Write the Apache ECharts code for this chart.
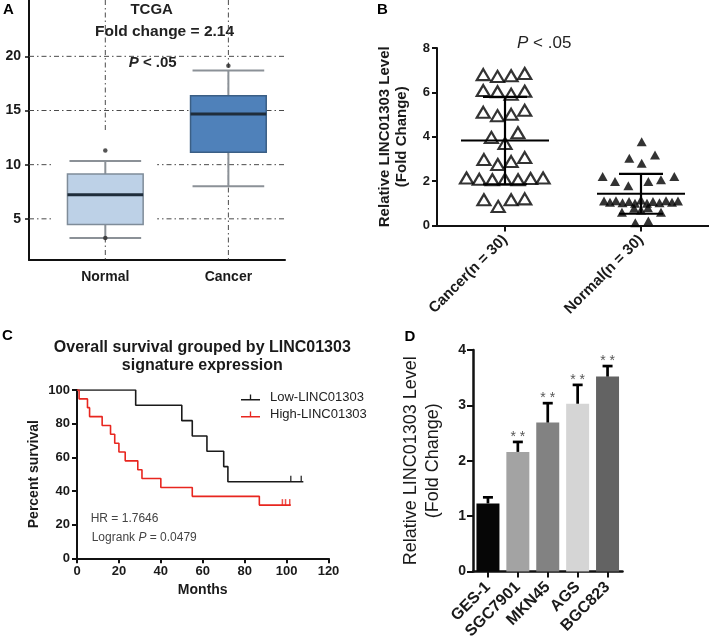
<!DOCTYPE html>
<html><head><meta charset="utf-8">
<script src="https://cdn.jsdelivr.net/npm/echarts@6/dist/echarts.min.js"></script>
<style>html,body{margin:0;padding:0;background:#fff}#c{width:709px;height:642px}</style>
</head><body><div id="c"></div>
<script>
// ---------- Panel A : TCGA box plot ----------
const boxCategories = ['Normal', 'Cancer'];
// [lower whisker, Q1, median, Q3, upper whisker]
const boxNormal = [3.24, 4.47, 7.22, 9.13, 10.35];
const boxCancer = [8.0, 11.14, 14.67, 16.37, 18.7];
const outlierCat = [1, 1, 2];
const outlierVal = [11.3, 3.24, 19.14];
const boxTicks = [5, 10, 15, 20];

// ---------- Panel B : scatter of relative level ----------
const groupLabels = ['Cancer(n = 30)', 'Normal(n = 30)'];
const cancerJitter = [-0.16, -0.055, 0.045, 0.145, -0.16, -0.055, 0.045, 0.145, -0.16, -0.055, 0.045, 0.145,
  -0.1, 0, 0.095, -0.155, -0.053, 0.045, 0.145,
  -0.283, -0.189, -0.093, 0, 0.096, 0.188, 0.28, -0.155, -0.05, 0.045, 0.145];
const cancerValues = [6.80, 6.72, 6.75, 6.85, 6.08, 6.03, 5.92, 6.05, 5.10, 4.95, 5.01, 5.19,
  3.97, 3.70, 4.18, 2.97, 2.75, 2.88, 3.06,
  2.14, 2.08, 2.06, 2.08, 2.06, 2.12, 2.14, 1.16, 0.86, 1.16, 1.20];
const normalJitter = [0.005, -0.086, 0.103, 0.005,
  -0.282, -0.191, -0.093, 0.054, 0.147, 0.245,
  -0.272, -0.228, -0.184, -0.136, -0.088, -0.044, 0, 0.044, 0.088, 0.136, 0.184, 0.228, 0.272,
  -0.14, -0.051, 0, 0.051, 0.147, -0.042, 0.054];
const normalValues = [3.78, 3.03, 3.18, 2.81,
  2.21, 1.98, 1.79, 1.98, 2.06, 2.21,
  1.10, 1.05, 1.12, 1.02, 1.08, 1.00, 1.15, 1.00, 1.08, 1.02, 1.12, 1.05, 1.10,
  0.60, 0.78, 0.70, 0.80, 0.60, 0.12, 0.20];
const groupMeans = [3.83, 1.43];
const groupSD = [1.97, 0.90];

// ---------- Panel C : Kaplan-Meier ----------
const lowMonths = [0, 28, 50, 55, 62, 70, 72, 108];
const lowSurvival = [100, 90.9, 81.8, 72.7, 63.6, 54.5, 45.5, 45.5];
const lowCensorMonths = [102, 107];
const highMonths = [0, 1, 5, 6, 12, 16, 18, 20, 23, 29, 31, 40, 55, 87, 102];
const highSurvival = [100, 94.7, 89.5, 84.2, 78.9, 73.7, 68.4, 63.2, 57.9, 52.6, 47.4, 42.1, 36.8, 31.6, 31.6];
const highCensorMonths = [98, 99.5, 101.5];

// ---------- Panel D : cell lines ----------
const cellLines = ['GES-1', 'SGC7901', 'MKN45', 'AGS', 'BGC823'];
const cellLevel = [1.23, 2.16, 2.69, 3.03, 3.52];
const cellErr = [0.11, 0.18, 0.35, 0.34, 0.19];
const cellSig = ['', '**', '**', '**', '**'];

// ================= rendering =================
const FONT = '"Liberation Sans", Arial, Helvetica, sans-serif';
const INK = '#1a1a1a';
const chart = echarts.init(document.getElementById('c'));

const boxStats = [boxNormal, boxCancer];
const boxFill = ['#bdd1e7', '#4f81ba'];
const boxStroke = ['#7f8c99', '#3b5f85'];
const barColors = ['#060606', '#a3a3a3', '#828282', '#d5d5d5', '#636363'];
const kmLow = '#1a1a1a', kmHigh = '#e8261f';

function axisLineStyle(w) { return {show: true, onZero: false, lineStyle: {color: '#111', width: w}}; }

const option = {
  animation: false,
  backgroundColor: '#fff',
  textStyle: {fontFamily: FONT},
  grid: [
    {left: 29, top: 0, width: 256, height: 260},
    {left: 437, top: 48, width: 272, height: 177.5},
    {left: 77, top: 390, width: 251.5, height: 168.3},
    {left: 473, top: 350, width: 149.5, height: 222.7}
  ],
  legend: {
    data: ['Low-LINC01303', 'High-LINC01303'],
    orient: 'vertical', left: 241, top: 391, padding: 0,
    itemWidth: 19, itemHeight: 9, itemGap: 4,
    selectedMode: false,
    icon: 'path://M0,7L20,7L20,8.6L0,8.6Z M9.3,2.5L10.7,2.5L10.7,8L9.3,8Z',
    textStyle: {fontSize: 13, color: '#222', fontFamily: FONT, padding: [0, 0, 0, 5]}
  },
  xAxis: [
    {gridIndex: 0, type: 'value', min: 0.38, max: 2.46,
      axisLine: axisLineStyle(2), axisTick: {show: false}, splitLine: {show: false},
      axisLabel: {customValues: [1, 2], formatter: v => boxCategories[Math.round(v) - 1],
        fontSize: 14, fontWeight: 'bold', color: INK, margin: 10}},
    {gridIndex: 1, type: 'value', min: -0.5, max: 1.5,
      axisLine: axisLineStyle(2), splitLine: {show: false},
      axisTick: {show: true, customValues: [0, 1], length: 6, lineStyle: {width: 2, color: '#111'}},
      axisLabel: {customValues: [0, 1], formatter: v => groupLabels[Math.round(v)],
        rotate: 45, fontSize: 15, fontWeight: 'bold', color: INK, margin: 12}},
    {gridIndex: 2, type: 'value', min: 0, max: 120, interval: 20,
      axisLine: axisLineStyle(2), splitLine: {show: false},
      axisTick: {show: true, length: 5, lineStyle: {width: 2, color: '#111'}},
      axisLabel: {fontSize: 13, fontWeight: 'bold', color: INK, margin: 7},
      name: 'Months', nameLocation: 'middle', nameGap: 25,
      nameTextStyle: {fontSize: 14, fontWeight: 'bold', color: INK}},
    {gridIndex: 3, type: 'category', data: cellLines,
      axisLine: axisLineStyle(2.5),
      axisTick: {show: true, alignWithLabel: true, length: 6, lineStyle: {width: 2, color: '#111'}},
      axisLabel: {rotate: 45, fontSize: 16, fontWeight: 'bold', color: INK, margin: 13, interval: 0}}
  ],
  yAxis: [
    {gridIndex: 0, type: 'value', min: 1.2, max: 25.2,
      axisLine: axisLineStyle(2), splitLine: {show: false},
      axisTick: {show: true, customValues: boxTicks, length: 4, lineStyle: {width: 1.5, color: '#111'}},
      axisLabel: {customValues: boxTicks, fontSize: 14, fontWeight: 'bold', color: INK, margin: 8}},
    {gridIndex: 1, type: 'value', min: 0, max: 8, interval: 2,
      axisLine: axisLineStyle(2), splitLine: {show: false},
      axisTick: {show: true, length: 5, lineStyle: {width: 2, color: '#111'}},
      axisLabel: {fontSize: 13, fontWeight: 'bold', color: INK, margin: 7},
      name: 'Relative LINC01303 Level\n(Fold Change)', nameLocation: 'middle', nameGap: 27,
      nameTextStyle: {fontSize: 15, fontWeight: 'bold', color: INK, lineHeight: 17}},
    {gridIndex: 2, type: 'value', min: 0, max: 100, interval: 20,
      axisLine: axisLineStyle(2), splitLine: {show: false},
      axisTick: {show: true, length: 5, lineStyle: {width: 2, color: '#111'}},
      axisLabel: {fontSize: 13, fontWeight: 'bold', color: INK, margin: 7},
      name: 'Percent survival', nameLocation: 'middle', nameGap: 36,
      nameTextStyle: {fontSize: 14, fontWeight: 'bold', color: INK}},
    {gridIndex: 3, type: 'value', min: 0, max: 4, interval: 1,
      axisLine: axisLineStyle(2.5), splitLine: {show: false},
      axisTick: {show: true, length: 6, lineStyle: {width: 2, color: '#111'}},
      axisLabel: {fontSize: 14, fontWeight: 'bold', color: INK, margin: 7},
      name: 'Relative LINC01303 Level\n(Fold Change)', nameLocation: 'middle', nameGap: 29,
      nameTextStyle: {fontSize: 18, color: INK, lineHeight: 22}}
  ],
  series: [
    // A: dash-dot reference lines
    {type: 'custom', xAxisIndex: 0, yAxisIndex: 0, z: 1, silent: true,
      data: boxTicks.map(v => [1, v, 0]).concat(boxCategories.map((c, i) => [i + 1, 10, 1])),
      encode: {x: 0, y: 1},
      renderItem(params, api) {
        const cs = params.coordSys;
        const p = api.coord([api.value(0), api.value(1)]);
        const style = {stroke: '#4a4a4a', lineWidth: 1, lineDash: [5, 3, 1.5, 3], fill: null};
        if (api.value(2) === 0) return {type: 'line', shape: {x1: cs.x, y1: p[1], x2: cs.x + cs.width, y2: p[1]}, style};
        return {type: 'line', shape: {x1: p[0], y1: cs.y, x2: p[0], y2: cs.y + cs.height}, style};
      }},
    // A: boxes
    {type: 'custom', xAxisIndex: 0, yAxisIndex: 0, z: 3, silent: true,
      data: boxStats.map((s, i) => [i + 1].concat(s)),
      encode: {x: 0, y: [1, 2, 3, 4, 5]},
      renderItem(params, api) {
        const i = params.dataIndex;
        const x = api.value(0);
        const ys = [1, 2, 3, 4, 5].map(k => api.coord([x, api.value(k)])[1]);
        const cx = api.coord([x, api.value(3)])[0];
        const half = api.size([0.615, 0])[0] / 2;
        const capHalf = half - 2;
        const [lo, q1, med, q3, hi] = ys;
        const wStyle = {stroke: '#8b9197', lineWidth: 2, fill: null};
        const children = [];
        if (i === 0) children.push({type: 'rect', shape: {x: cx - half - 16, y: hi - 30, width: 2 * half + 30, height: lo - hi + 30}, style: {fill: '#fff'}});
        children.push(
          {type: 'line', shape: {x1: cx, y1: q3, x2: cx, y2: hi}, style: wStyle},
          {type: 'line', shape: {x1: cx, y1: q1, x2: cx, y2: lo}, style: wStyle},
          {type: 'line', shape: {x1: cx - capHalf, y1: hi, x2: cx + capHalf, y2: hi}, style: wStyle},
          {type: 'line', shape: {x1: cx - capHalf, y1: lo, x2: cx + capHalf, y2: lo}, style: wStyle},
          {type: 'rect', shape: {x: cx - half, y: q3, width: 2 * half, height: q1 - q3}, style: {fill: boxFill[i], stroke: boxStroke[i], lineWidth: 1.5}},
          {type: 'line', shape: {x1: cx - half, y1: med, x2: cx + half, y2: med}, style: {stroke: '#1f2d3b', lineWidth: 3}}
        );
        return {type: 'group', children};
      }},
    {type: 'scatter', xAxisIndex: 0, yAxisIndex: 0, z: 4, silent: true,
      data: outlierCat.map((c, i) => [c, outlierVal[i]]),
      symbol: 'circle', symbolSize: 4.5, itemStyle: {color: '#2a2a2a'}},
    // B: points
    {type: 'scatter', xAxisIndex: 1, yAxisIndex: 1, z: 3, silent: true,
      data: cancerJitter.map((d, i) => [0 + d, cancerValues[i]]),
      symbol: 'triangle', symbolSize: [13, 11],
      itemStyle: {color: '#fff', borderColor: '#000', borderWidth: 2.2}},
    {type: 'scatter', xAxisIndex: 1, yAxisIndex: 1, z: 3, silent: true,
      data: normalJitter.map((d, i) => [1 + d, normalValues[i]]),
      symbol: 'triangle', symbolSize: [10, 9], itemStyle: {color: '#000'}},
    {type: 'custom', xAxisIndex: 1, yAxisIndex: 1, z: 5, silent: true,
      data: groupMeans.map((m, i) => [i, m, groupSD[i]]),
      encode: {x: 0, y: 1},
      renderItem(params, api) {
        const x = api.value(0), m = api.value(1), s = api.value(2);
        const pm = api.coord([x, m]), pu = api.coord([x, m + s]), pl = api.coord([x, m - s]);
        const st = {stroke: '#000', lineWidth: 2.2, fill: null};
        return {type: 'group', children: [
          {type: 'line', shape: {x1: pm[0] - 44, y1: pm[1], x2: pm[0] + 44, y2: pm[1]}, style: st},
          {type: 'line', shape: {x1: pu[0], y1: pu[1], x2: pl[0], y2: pl[1]}, style: st},
          {type: 'line', shape: {x1: pu[0] - 22, y1: pu[1], x2: pu[0] + 22, y2: pu[1]}, style: st},
          {type: 'line', shape: {x1: pl[0] - 22, y1: pl[1], x2: pl[0] + 22, y2: pl[1]}, style: st}
        ]};
      }},
    // C: survival curves
    {name: 'Low-LINC01303', type: 'line', xAxisIndex: 2, yAxisIndex: 2, step: 'end',
      data: lowMonths.map((t, i) => [t, lowSurvival[i]]), showSymbol: false, symbol: 'none',
      lineStyle: {color: kmLow, width: 1.6}, itemStyle: {color: kmLow}, z: 3},
    {name: 'High-LINC01303', type: 'line', xAxisIndex: 2, yAxisIndex: 2, step: 'end',
      data: highMonths.map((t, i) => [t, highSurvival[i]]), showSymbol: false, symbol: 'none',
      lineStyle: {color: kmHigh, width: 1.6}, itemStyle: {color: kmHigh}, z: 3},
    {type: 'scatter', xAxisIndex: 2, yAxisIndex: 2, silent: true, z: 4,
      data: lowCensorMonths.map(t => [t, lowSurvival[lowSurvival.length - 1]]),
      symbol: 'rect', symbolSize: [1.5, 6], symbolOffset: [0, -3], itemStyle: {color: kmLow}},
    {type: 'scatter', xAxisIndex: 2, yAxisIndex: 2, silent: true, z: 4,
      data: highCensorMonths.map(t => [t, highSurvival[highSurvival.length - 1]]),
      symbol: 'rect', symbolSize: [1.5, 6], symbolOffset: [0, -3], itemStyle: {color: kmHigh}},
    // D: bars and error bars
    {type: 'bar', xAxisIndex: 3, yAxisIndex: 3, barWidth: 23, silent: true,
      data: cellLevel, itemStyle: {color: p => barColors[p.dataIndex]}},
    {type: 'custom', xAxisIndex: 3, yAxisIndex: 3, z: 5, silent: true,
      data: cellLevel.map((v, i) => [i, v, cellErr[i]]),
      encode: {x: 0, y: 1},
      renderItem(params, api) {
        const i = api.value(0), v = api.value(1), e = api.value(2);
        const b = api.coord([i, v]), t = api.coord([i, v + e]);
        const st = {stroke: '#000', lineWidth: 2.7, fill: null};
        const children = [
          {type: 'line', shape: {x1: t[0], y1: b[1], x2: t[0], y2: t[1]}, style: st},
          {type: 'line', shape: {x1: t[0] - 5, y1: t[1], x2: t[0] + 5, y2: t[1]}, style: st}
        ];
        const sig = cellSig[params.dataIndex];
        if (sig) children.push({type: 'text', x: t[0], y: t[1] - 5,
          style: {text: sig.split('').join(' '), fill: '#555', font: '14px ' + FONT, align: 'center', verticalAlign: 'middle'}});
        return {type: 'group', children};
      }}
  ],
  graphic: [
    {type: 'text', x: 8.3, y: 10, style: {text: 'A', font: 'bold 15px ' + FONT, fill: '#000', align: 'center', verticalAlign: 'middle'}},
    {type: 'text', x: 382.5, y: 10, style: {text: 'B', font: 'bold 15px ' + FONT, fill: '#000', align: 'center', verticalAlign: 'middle'}},
    {type: 'text', x: 7.5, y: 336, style: {text: 'C', font: 'bold 15px ' + FONT, fill: '#000', align: 'center', verticalAlign: 'middle'}},
    {type: 'text', x: 410, y: 336.5, style: {text: 'D', font: 'bold 15px ' + FONT, fill: '#000', align: 'center', verticalAlign: 'middle'}},
    {type: 'text', x: 151.7, y: 9.5, style: {text: 'TCGA', font: 'bold 15px ' + FONT, fill: '#222', align: 'center', verticalAlign: 'middle'}},
    {type: 'text', x: 164.5, y: 31.5, style: {text: 'Fold change = 2.14', font: 'bold 15.5px ' + FONT, fill: '#222', align: 'center', verticalAlign: 'middle'}},
    {type: 'text', x: 152.7, y: 62.5, style: {text: '{i|P} < .05', font: 'bold 15px ' + FONT, fill: '#222', align: 'center', verticalAlign: 'middle',
      rich: {i: {fontStyle: 'italic', fontWeight: 'bold', fontSize: 15, fontFamily: FONT, fill: '#222'}}}},
    {type: 'text', x: 544.2, y: 43.3, style: {text: '{i|P} < .05', font: '17px ' + FONT, fill: '#222', align: 'center', verticalAlign: 'middle',
      rich: {i: {fontStyle: 'italic', fontSize: 17, fontFamily: FONT, fill: '#222'}}}},
    {type: 'text', x: 202.3, y: 356.5, style: {text: 'Overall survival grouped by LINC01303\nsignature expression', font: 'bold 16px ' + FONT, lineHeight: 17.6, fill: INK, align: 'center', verticalAlign: 'middle'}},
    {type: 'text', x: 90.7, y: 518.3, style: {text: 'HR = 1.7646', font: '12px ' + FONT, fill: '#444', align: 'left', verticalAlign: 'middle'}},
    {type: 'text', x: 91.7, y: 537.3, style: {text: 'Logrank {i|P} = 0.0479', font: '12px ' + FONT, fill: '#444', align: 'left', verticalAlign: 'middle',
      rich: {i: {fontStyle: 'italic', fontSize: 12, fontFamily: FONT, fill: '#444'}}}}
  ]
};
chart.setOption(option);
</script>
</body></html>
